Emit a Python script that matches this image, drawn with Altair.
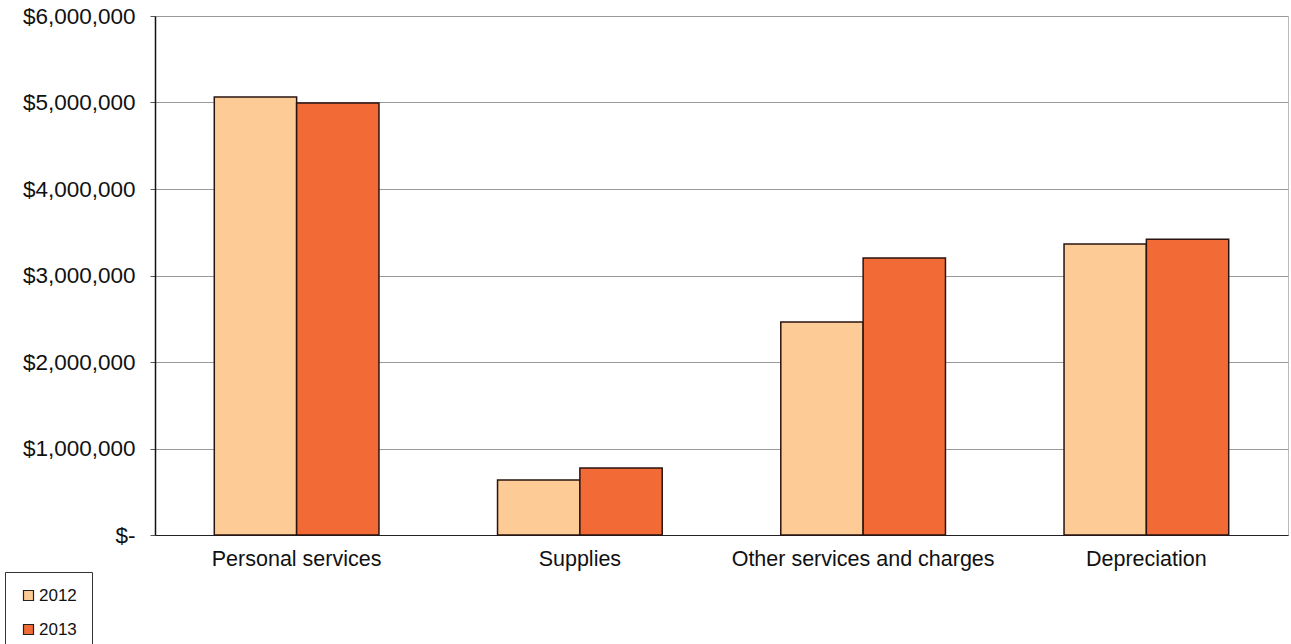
import altair as alt
import pandas as pd

categories = ["Personal services", "Supplies", "Other services and charges", "Depreciation"]
years = ["2012", "2013"]
values_2012 = [5064000, 636000, 2462000, 3364000]
values_2013 = [4994000, 775000, 3202000, 3420000]
y_ticks = [0, 1000000, 2000000, 3000000, 4000000, 5000000, 6000000]
colors = ["#FDCB96", "#F26B36"]

rows = []
for c, a, b in zip(categories, values_2012, values_2013):
    rows.append({"category": c, "year": "2012", "value": a})
    rows.append({"category": c, "year": "2013", "value": b})
df = pd.DataFrame(rows)

font = "Liberation Sans"

bars = alt.Chart(df).mark_bar(stroke="#2a1410", strokeWidth=1.5).encode(
    x=alt.X("category:N", sort=categories, title=None,
            scale=alt.Scale(paddingInner=0, paddingOuter=0),
            axis=alt.Axis(labelAngle=0, labelFontSize=21.5, labelFont=font, labelColor="#111",
                          labelLimit=0, ticks=False, domainColor="#222", domainWidth=1.2,
                          labelPadding=13)),
    xOffset=alt.XOffset("year:N", sort=years, scale=alt.Scale(paddingOuter=0.72, paddingInner=0)),
    y=alt.Y("value:Q", title=None,
            scale=alt.Scale(domain=[0, 6000000], nice=False),
            axis=alt.Axis(values=y_ticks, labelExpr="datum.value == 0 ? '$-' : format(datum.value, '$,')",
                          labelFontSize=22.5, labelFont=font, labelColor="#111", labelPadding=15,
                          tickSize=5, tickColor="#555", domainColor="#111", domainWidth=1.5,
                          gridColor="#999", gridWidth=1)),
    color=alt.Color("year:N", sort=years, scale=alt.Scale(domain=years, range=colors),
                    legend=alt.Legend(title=None, orient="none", legendX=-150, legendY=556,
                                      labelFontSize=17, labelFont=font, labelColor="#111",
                                      symbolType="square", symbolSize=100, symbolStrokeColor="#222",
                                      symbolStrokeWidth=1.2, rowPadding=16, padding=15,
                                      strokeColor="#333", labelOffset=2)),
)

chart = bars.properties(
    width=1133, height=519,
    autosize="none",
    padding={"left": 155, "top": 16, "right": 3, "bottom": 109},
).configure_view(stroke="#bbb", strokeWidth=1)

chart.save("out.html", embed_options={"renderer": "svg", "actions": False})
